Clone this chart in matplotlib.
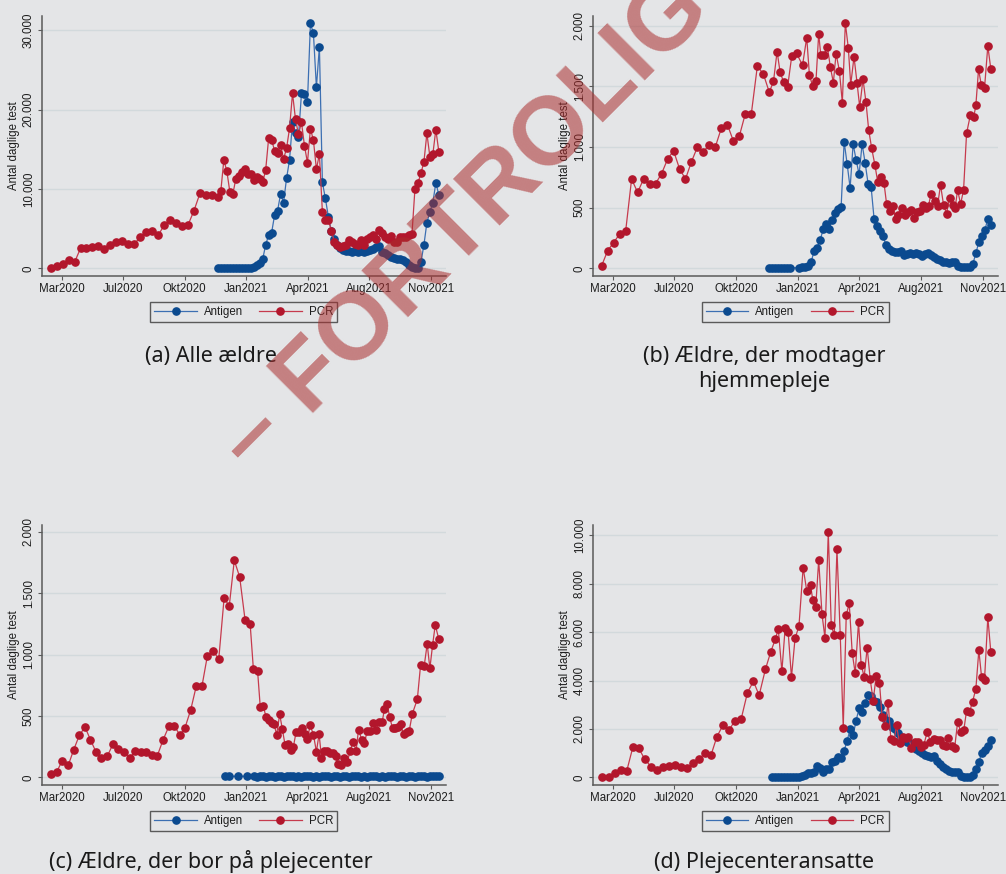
import matplotlib
matplotlib.use("Agg")
import matplotlib.pyplot as plt

plt.rcParams['font.family'] = ['Liberation Sans', 'DejaVu Sans']

# ---------------- data ----------------
# x = week index of the reporting period (0 = first PCR observation)
tick_labels = ['Mar2020', 'Jul2020', 'Okt2020', 'Jan2021', 'Apr2021', 'Aug2021', 'Nov2021']
tick_weeks = [3.67, 24.27, 44.87, 65.47, 86.07, 106.67, 127.27]

# (a) Alle aeldre
x_pcr_a = list(range(0, 56, 2)) + list(range(56, 131))
pcr_a = [0, 336, 504, 1050, 756, 2520, 2604, 2646, 2856, 2436, 2940, 3276, 3444, 3024, 3024,
         3990, 4536, 4704, 4158, 5418, 6132, 5670, 5292, 5460, 7266, 9450, 9240, 9198,
         9030,
         9786, 13650, 12264, 9660, 9324, 11256, 11634, 12100, 12474, 11886, 11886, 11130, 11550,
         11200, 10878, 12348, 16380, 16170, 14826, 14490, 15582, 13776, 15120, 17640, 22050,
         18774, 16884, 18396, 15456, 13314, 17598, 16128, 12516, 14364, 7140, 6090, 6090,
         4746, 3360, 2940, 2730, 2814, 2940, 3570, 3276, 3024, 2940, 3570, 2982, 3654, 3990,
         4158, 3738, 4830, 4494, 3906, 3738, 4116, 3276, 3360, 3906, 3906, 3990, 4200, 4284,
         10000, 10752, 11970, 13398, 17010, 14070, 14406, 17472, 14700]
x_ant_a = list(range(56, 131))
ant_a = [0, 0, 0, 0, 0, 0, 0, 0, 0, 0, 0,
         100, 210, 420, 630, 1134, 2940, 4200, 4494, 6720, 7266, 9366, 8274, 11340, 13650,
         18480, 17010, 16590, 22050, 21966, 20916, 30870, 29610, 22806, 27930, 10836, 8820, 6510,
         4746, 3654, 2940, 2520, 2310, 2226, 2226, 2100, 2150, 2100, 2150, 2100, 2200, 2310,
         2400, 2646, 2856, 2100, 1890, 1680, 1470, 1260, 1134, 1134, 1100, 840, 420, 210,
         0, 100, 756, 2940, 5754, 7098, 8274, 10794, 9240]

# (b) Aeldre, der modtager hjemmepleje
x_pcr_b = list(range(0, 56, 2)) + [
    56, 57.4, 58.6, 59.6, 60.8, 62.1, 63.5, 65.1,
    67.1, 68.5, 69.4, 70.5, 71.6, 72.5, 73.2, 74.3, 75.4, 76.4, 77.4, 78.3, 79.4, 80.4, 81.4,
    82.4, 83.2, 84.3, 85.3, 86.2, 87.3, 88.3, 89.2, 90.2, 91.3, 92.2, 93.2, 94.3, 95.2, 96.3,
    97.2, 98.2, 99.1, 100.2, 101.3, 102.2, 103.2, 104.2, 105.2, 106.2, 107.3, 108.3, 109.2,
    110.0, 111.2, 112.2, 113.2, 114.2, 115.2, 116.2, 117.3, 118.1, 118.9, 119.9, 120.9, 121.9,
    123.2, 124.3, 125.0, 125.9, 126.8, 127.9, 129.0, 130.0]
pcr_b = [22, 146, 212, 283, 305, 736, 626, 736, 698, 698, 780, 898, 970, 821, 736, 879, 1000,
         962, 1019, 1003, 1157, 1184, 1049, 1091, 1275, 1275, 1665, 1602, 1451, 1541, 1786, 1618,
         1533, 1492, 1750, 1772, 1673, 1901, 1593, 1500, 1547, 1934, 1755, 1755, 1827, 1657,
         1530, 1769, 1629, 1365, 2022, 1813, 1514, 1742, 1530, 1330, 1558, 1368, 1140, 989, 849,
         714, 753, 706, 527, 473, 514, 409, 440, 500, 440, 467, 478, 415, 462, 470, 525, 500,
         516, 613, 552, 516, 687, 525, 451, 580, 519, 500, 646, 530, 646, 1113, 1266, 1247,
         1343, 1640, 1514, 1486, 1832, 1643]
x_ant_b = list(range(56, 64)) + list(range(66, 131))
ant_b = [5, 5, 5, 5, 5, 5, 5, 5,
         5, 10, 14, 22, 55, 146, 165, 234, 321, 365, 321, 398, 453, 489, 508, 1044, 860, 662,
         1025, 893, 775, 1025, 871, 698, 673, 409, 349, 308, 266, 190, 162, 143, 132, 135, 140,
         110, 121, 124, 118, 124, 115, 104, 115, 124, 107, 96, 80, 66, 55, 49, 47, 49, 49, 22,
         8, 8, 8, 14, 36, 124, 217, 266, 313, 409, 354]

# (c) Aeldre, der bor paa plejecenter
x_pcr_c = [0.0, 2.0, 3.9, 5.9, 7.7, 9.6, 11.5, 13.3, 15.2, 17.0, 19.0, 20.9, 22.7, 24.6, 26.5,
           28.4, 30.1, 32.0, 33.8, 35.7, 37.6, 39.6, 41.4, 43.3, 45.0, 46.9, 48.8, 50.7, 52.5,
           54.4, 56.3, 58.1, 59.8, 61.5, 63.3, 65.1, 66.8, 67.9, 69.3, 70.2, 71.2, 72.1, 73.0,
           74.0, 74.8, 75.7, 76.7, 77.6, 78.5, 79.5, 80.4, 81.3, 82.2, 83.1, 84.2, 85.1, 86.0,
           86.9, 88.0, 89.0, 89.9, 90.7, 91.6, 92.7, 93.7, 94.6, 95.4, 96.3, 97.3, 98.3, 99.3,
           100.3, 101.3, 102.3, 103.1, 104.2, 105.1, 106.0, 107.1, 108.0, 109.0, 109.9, 111.0,
           111.8, 112.7, 113.5, 114.5, 115.4, 116.2, 117.2, 118.2, 119.2, 120.1, 121.1, 122.8,
           123.9, 125.1, 126.1, 127.0, 127.9, 128.8, 130.0]
pcr_c = [24, 43, 136, 98, 223, 342, 410, 307, 206, 155, 174, 272, 234, 204, 155, 217, 204, 204,
         182, 174, 302, 416, 418, 345, 405, 549, 747, 747, 992, 1030, 965, 1464, 1394, 1769,
         1633, 1285, 1253, 880, 867, 571, 581, 494, 467, 446, 432, 348, 514, 391, 264, 272, 223,
         250, 370, 370, 399, 351, 312, 424, 348, 209, 353, 160, 217, 217, 201, 196, 177, 106,
         101, 160, 122, 215, 291, 217, 389, 304, 277, 380, 380, 440, 386, 448, 448, 557, 598,
         494, 399, 399, 413, 432, 351, 367, 380, 516, 636, 918, 908, 1087, 888, 1076, 1242, 1125]
x_ant_c = [58.5, 59.8, 62.9, 65.9] + list(range(68, 131))
ant_c = [8, 8, 8, 8,
         7, 6, 7, 8, 6, 7, 7, 6, 8, 7, 6, 7, 7, 8, 6, 7, 6, 7, 8, 7, 6, 7, 6, 7, 8, 7,
         6, 7, 7, 6, 8, 7, 6, 7, 7, 8, 6, 7, 6, 7, 8, 7, 6, 7, 6, 7, 8, 7, 6, 7, 7, 6,
         8, 7, 6, 7, 8, 7, 6, 7, 8, 9, 8]

# (d) Plejecenteransatte
x_pcr_d = [0, 2.3, 4.4, 6.4, 8.4, 10.4, 12.4, 14.4, 16.5, 18.5, 20.5, 22.5, 24.6, 26.6, 28.6,
           30.6, 32.6, 34.5, 36.5, 38.5, 40.5, 42.6, 44.5, 46.6, 48.7, 50.7, 52.6, 54.7, 56.5,
           58.0, 59.0, 60.2, 61.3, 62.3, 63.4, 64.6, 65.9, 67.3, 68.5, 69.8, 70.5, 71.5, 72.5,
           73.6, 74.6, 75.7, 76.7, 77.7, 78.6, 79.7, 80.7, 81.7, 82.7, 83.7, 84.7, 85.8, 86.7,
           87.7, 88.7, 89.7, 90.7, 91.7, 92.8, 93.7, 94.7, 95.7, 96.6, 97.7, 98.5, 99.5, 100.7,
           101.7, 102.5, 103.5, 104.6, 105.6, 106.6, 107.6, 108.8, 109.8, 111.0, 111.9, 112.9,
           113.9, 114.9, 115.8, 116.9, 117.9, 118.9, 120.0, 121.0, 121.9, 122.9, 123.9, 125.0,
           126.0, 126.9, 127.9, 129.0, 130.0]
pcr_d = [0, 28, 165, 303, 275, 1240, 1198, 744, 441, 303, 441, 468, 496, 413, 399, 578, 771,
         992, 909, 1680, 2149, 1956, 2342, 2410, 3499, 3967, 3388, 4463, 5193, 5702, 6129, 4380,
         6184, 5992, 4132, 5744, 6240, 8664, 7713, 7948, 7328, 7025, 8981, 6735, 5757, 10124,
         6281, 5868, 9421, 5868, 2052, 6694, 7190, 5138, 4297, 6419, 4628, 4160, 5358, 4063,
         3168, 4187, 3912, 2479, 2121, 3072, 1584, 1501, 2149, 1405, 1680, 1612, 1667, 1226,
         1474, 1446, 1267, 1336, 1887, 1460, 1598, 1543, 1543, 1322, 1281, 1612, 1309, 1198,
         2273, 1873, 1970, 2755, 2700, 3127, 3650, 5248, 4160, 4022, 6612, 5179]
x_ant_d = list(range(57, 131))
ant_d = [0, 0, 0, 0, 0, 0, 0, 0, 0, 28, 55, 83, 165, 193, 220, 468, 372, 234, 331, 358,
         647, 689, 854, 785, 1102, 1515, 1983, 1736, 2342, 2865, 2700, 3085, 3388, 3361, 3154,
         3127, 2920, 2562, 2369, 2314, 2066, 1983, 1818, 1653, 1570, 1474, 1432, 1309, 1157,
         1074, 992, 937, 882, 826, 882, 689, 551, 441, 331, 275, 234, 220, 220, 55, 28, 28, 28,
         83, 331, 634, 1019, 1129, 1295, 1543]

series_names = ['Antigen', 'PCR']
ylabel = 'Antal daglige test'
captions = ['(a) Alle ældre', '(b) Ældre, der modtager', 'hjemmepleje',
            '(c) Ældre, der bor på plejecenter', '(d) Plejecenteransatte']
watermark = '– FORTROLIG'

# ---------------- style ----------------
BG = '#e4e5e7'
GRID = '#d2d9dc'
SPINE = '#5a5a5a'
BLUE_M, BLUE_L = '#0b4a8f', '#3c6fb2'
RED_M, RED_L = '#b2162c', '#c63a4d'
W, H = 1006, 874
FS = 8.3
MS = 5.2

fig = plt.figure(figsize=(W / 100, H / 100), dpi=100, facecolor=BG)


def rect(l, r, t, b):
    return [l / W, 1 - b / H, (r - l) / W, (b - t) / H]


panels = [
    dict(r=rect(41.7, 445.7, 16, 276), px=x_pcr_a, py=pcr_a, ax_=x_ant_a, ay=ant_a,
         yt=[0, 10000, 20000, 30000], yl=(-970, 31800)),
    dict(r=rect(592.7, 997.7, 16, 276), px=x_pcr_b, py=pcr_b, ax_=x_ant_b, ay=ant_b,
         yt=[0, 500, 1000, 1500, 2000], yl=(-63, 2079)),
    dict(r=rect(41.7, 445.7, 525, 785), px=x_pcr_c, py=pcr_c, ax_=x_ant_c, ay=ant_c,
         yt=[0, 500, 1000, 1500, 2000], yl=(-63, 2057)),
    dict(r=rect(592.7, 997.7, 525, 785), px=x_pcr_d, py=pcr_d, ax_=x_ant_d, ay=ant_d,
         yt=[0, 2000, 4000, 6000, 8000, 10000], yl=(-318, 10426)),
]


def fmt(v):
    return f'{int(v):,}'.replace(',', '.')


for p in panels:
    ax = fig.add_axes(p['r'])
    ax.set_facecolor(BG)
    ax.plot(p['ax_'], p['ay'], color=BLUE_L, lw=0.9, marker='o', ms=MS,
            mfc=BLUE_M, mec=BLUE_M, label=series_names[0], zorder=3)
    ax.plot(p['px'], p['py'], color=RED_L, lw=0.9, marker='o', ms=MS,
            mfc=RED_M, mec=RED_M, label=series_names[1], zorder=4)
    ax.set_xlim(-3.0, 132.3)
    ax.set_ylim(*p['yl'])
    ax.set_xticks(tick_weeks, tick_labels, fontsize=FS, color='#1e1e1e')
    ax.set_yticks(p['yt'], [fmt(v) for v in p['yt']], fontsize=FS, color='#1e1e1e',
                  rotation=90, va='center')
    ax.tick_params(axis='both', direction='out', length=3, width=0.8, color=SPINE, pad=2)
    ax.yaxis.grid(True, color=GRID, lw=1.0)
    ax.set_axisbelow(True)
    for s in ['top', 'right']:
        ax.spines[s].set_visible(False)
    for s in ['left', 'bottom']:
        ax.spines[s].set_color(SPINE)
        ax.spines[s].set_linewidth(1.1)
    ax.set_ylabel(ylabel, fontsize=FS, color='#1e1e1e', labelpad=2)
    leg = ax.legend(loc='center', bbox_to_anchor=(0.5, -0.14), ncol=2, frameon=True,
                    fancybox=False, edgecolor=SPINE, facecolor=BG, framealpha=1,
                    fontsize=FS, handlelength=3.7, handletextpad=0.6, columnspacing=1.4,
                    borderpad=0.35, borderaxespad=0)
    leg.get_frame().set_linewidth(1.0)
    for t in leg.get_texts():
        t.set_color('#1e1e1e')

cap_kw = dict(ha='center', va='baseline', fontsize=15.5, family='Noto Sans', color='#1a1a1a')
fig.text(211 / W, 1 - 362 / H, captions[0], **cap_kw)
fig.text(764 / W, 1 - 362 / H, captions[1], **cap_kw)
fig.text(764 / W, 1 - 387 / H, captions[2], **cap_kw)
fig.text(211 / W, 1 - 868 / H, captions[3], **cap_kw)
fig.text(764 / W, 1 - 868 / H, captions[4], **cap_kw)

fig.text(465 / W, 1 - 226 / H, watermark, rotation=45, ha='center', va='center',
         fontsize=70, fontweight='bold', color='#aa2d2d', alpha=0.55, zorder=20)

fig.savefig('out.png', dpi=100, facecolor=BG)
